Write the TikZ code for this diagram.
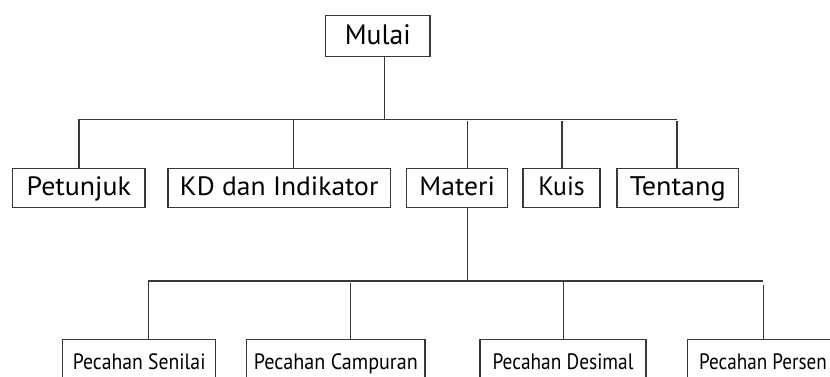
\documentclass[tikz,border=0pt]{standalone}
\usepackage{fontspec}
\setmainfont{PT Sans}
\newcommand{\fitt}[3]{\resizebox{#1pt}{#2pt}{#3}}
\begin{document}
\begin{tikzpicture}[x=1pt,y=-1pt,
  line/.style={draw=black!78, line width=1.1pt},
  box/.style={line, rectangle, inner xsep=0pt, inner ysep=0pt, anchor=north, text=black, font=\fontsize{24}{28}\selectfont},
  toprow/.style={box, text height=29.3pt, text depth=11.7pt},
  midrow/.style={box, text height=27.3pt, text depth=11.7pt},
  lowrow/.style={box, text height=30.3pt, text depth=30pt}]
\path[clip] (0,0) rectangle (830,377);
\fill[white] (0,0) rectangle (830,377);
% nodes
\node[toprow, minimum width=104.3pt] (mulai) at (377.85,15) {\fitt{66}{19.9}{Mulai}};
\node[midrow, minimum width=132.3pt] (petunjuk) at (78.85,167.7) {\fitt{104.4}{18.8}{Petunjuk}};
\node[midrow, minimum width=222.3pt] (kd) at (279.15,167.7) {\fitt{198.4}{18.8}{KD dan Indikator}};
\node[midrow, minimum width=101pt] (materi) at (457.2,167.7) {\fitt{75.7}{18.8}{Materi}};
\node[midrow, minimum width=77pt] (kuis) at (561.5,167.7) {\fitt{46.5}{18.8}{Kuis}};
\node[midrow, minimum width=121.5pt] (tentang) at (677.75,167.7) {\fitt{96}{18.8}{Tentang}};
\node[lowrow, minimum width=153pt] (senilai) at (139.2,339) {\fitt{132.7}{15.8}{Pecahan Senilai}};
\node[lowrow, minimum width=178.4pt] (campuran) at (335.8,339) {\fitt{164}{15.8}{Pecahan Campuran}};
\node[lowrow, minimum width=166pt] (desimal) at (563,339) {\fitt{141}{15.8}{Pecahan Desimal}};
\node[lowrow, minimum width=150.6pt] (persen) at (763,339) {\fitt{127.7}{15.8}{Pecahan Persen}};
% bus points, level 1
\coordinate (m1) at (384.7,119.5);
\coordinate (a1) at (79,119.5);
\coordinate (a2) at (293.7,119.5);
\coordinate (a3) at (467.7,119.5);
\coordinate (a4) at (562,119.5);
\coordinate (a5) at (677,119.5);
% bus points, level 2
\coordinate (m2) at (467.7,281);
\coordinate (b1) at (148.3,281);
\coordinate (b2) at (350.6,281);
\coordinate (b3) at (563.7,281);
\coordinate (b4) at (763.3,281);
% connectors level 1
\draw[line] (m1 |- mulai.south) -- (m1);
\draw[line] (a1) -- (a5);
\draw[line] (a1) -- (a1 |- petunjuk.north);
\draw[line] (a2) -- (a2 |- kd.north);
\draw[line] ([yshift=-2pt]a3) -- (a3 |- materi.north);
\draw[line] ([yshift=-2pt]a4) -- (a4 |- kuis.north);
\draw[line] ([yshift=-2pt]a5) -- (a5 |- tentang.north);
% connectors level 2
\draw[line] (m2 |- materi.south) -- (m2);
\draw[line] (b1) -- (b4);
\draw[line] (b1) -- (b1 |- senilai.north);
\draw[line] ([yshift=-2pt]b2) -- (b2 |- campuran.north);
\draw[line] (b3) -- (b3 |- desimal.north);
\draw[line] ([yshift=-4pt]b4) -- (b4 |- persen.north);
\end{tikzpicture}
\end{document}
